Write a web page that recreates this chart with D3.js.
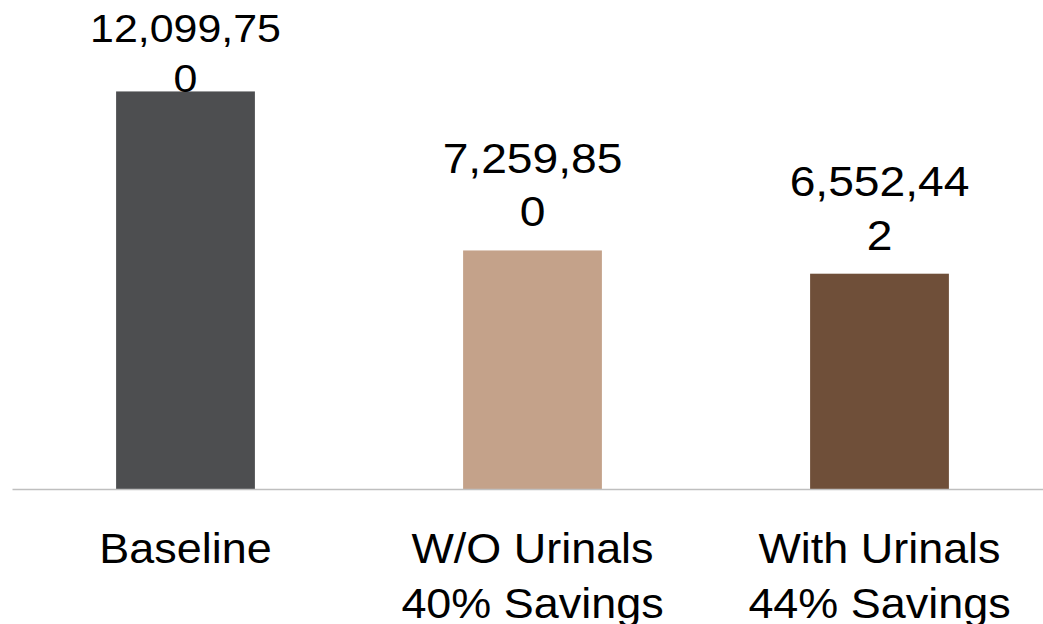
<!DOCTYPE html>
<html>
<head>
<meta charset="utf-8">
<script src="https://cdn.jsdelivr.net/npm/d3@7/dist/d3.min.js"></script>
<style>
  html, body { margin: 0; padding: 0; background: #ffffff; }
  svg { display: block; font-family: "Liberation Sans", Arial, sans-serif; }
</style>
</head>
<body>
<svg id="chart" width="1043" height="624"></svg>
<script>
// Water use per scenario (gallons)
const categories = [
  ["Baseline"],
  ["W/O Urinals", "40% Savings"],
  ["With Urinals", "44% Savings"]
];
const values = [12099750, 7259850, 6552442];

// Styling
const barColors = ["#4d4e50", "#c4a28a", "#6f4f39"];
const valueFontSizes = [39, 42, 42];   // tallest label is shrunk to stay inside the plot
const textStretch = 1.1;

const W = 1043, H = 624;
const svg = d3.select("#chart");

const x = d3.scaleBand()
  .domain(d3.range(values.length))
  .range([12, 1053])
  .paddingInner(0.6)
  .paddingOuter(0.3);

const y = d3.scaleLinear()
  .domain([0, 14000000])
  .range([489, 29]);

// Bars
svg.append("g")
  .selectAll("rect")
  .data(values)
  .join("rect")
  .attr("x", (d, i) => x(i))
  .attr("width", x.bandwidth())
  .attr("y", d => y(d))
  .attr("height", d => y(0) - y(d))
  .attr("fill", (d, i) => barColors[i]);

// Category axis
const axis = svg.append("g")
  .attr("transform", `translate(0,${y(0)})`)
  .call(d3.axisBottom(x).tickSize(0).tickFormat(() => ""));

axis.select(".domain")
  .attr("stroke", "#bfbfbf")
  .attr("stroke-width", 1.5);

axis.selectAll(".tick text").remove();
axis.selectAll(".tick")
  .append("text")
  .attr("text-anchor", "middle")
  .attr("fill", "#000")
  .attr("font-size", 42)
  .attr("transform", "scale(1.07,1)")
  .each(function(i) {
    const t = d3.select(this);
    categories[i].forEach((line, k) => {
      t.append("tspan").attr("x", 0).attr("y", 74 + k * 55).text(line);
    });
  });

// Value labels, wrapped to the available width
const fmt = d3.format(",");
const maxLabelWidth = 177;
const labels = svg.append("g");

values.forEach((v, i) => {
  const fs = valueFontSizes[i];
  const lh = fs * 1.27;
  const g = labels.append("g");
  const probe = g.append("text").attr("font-size", fs);
  const str = fmt(v);
  const lines = [];
  let cur = "";
  for (const ch of str) {
    probe.text(cur + ch);
    if (cur && probe.node().getComputedTextLength() > maxLabelWidth) {
      lines.push(cur);
      cur = ch;
    } else {
      cur += ch;
    }
  }
  if (cur) lines.push(cur);
  probe.remove();

  const top = y(v);
  let firstY = top - 24 - (lines.length - 1) * lh;
  if (firstY < 42) firstY = 42;

  const cx = x(i) + x.bandwidth() / 2;
  const t = g.append("text")
    .attr("text-anchor", "middle")
    .attr("fill", "#000")
    .attr("font-size", fs)
    .attr("transform", `translate(${cx},0) scale(${textStretch},1)`);
  lines.forEach((line, k) => {
    t.append("tspan").attr("x", 0).attr("y", firstY + k * lh).text(line);
  });
});
</script>
</body>
</html>
